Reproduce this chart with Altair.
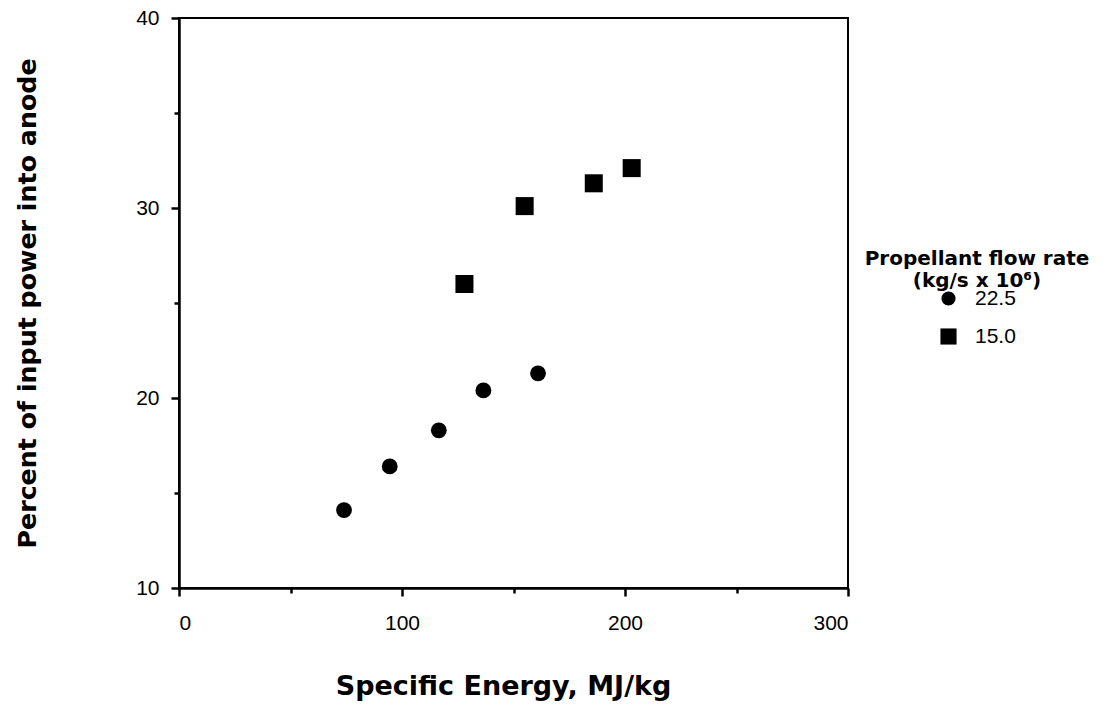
import altair as alt
import pandas as pd

# Data
series_labels = ["22.5", "15.0"]
energy_225 = [74, 94.5, 116.5, 136.5, 161]
percent_225 = [14.1, 16.4, 18.3, 20.4, 21.3]
energy_150 = [128, 155, 186, 203]
percent_150 = [26.0, 30.1, 31.3, 32.1]
x_ticks = [0, 50, 100, 150, 200, 250, 300]
y_ticks = [10, 15, 20, 25, 30, 35, 40]

df = pd.DataFrame({
    "energy": energy_225 + energy_150,
    "percent": percent_225 + percent_150,
    "flow": [series_labels[0]] * len(energy_225) + [series_labels[1]] * len(energy_150),
})

FONT = "Liberation Sans"
TFONT = "DejaVu Sans"
SQUARE = "M-1.14,-1.14H1.14V1.14H-1.14Z"

chart = alt.Chart(df).mark_point(filled=True, opacity=1, color="black", size=250).encode(
    x=alt.X("energy:Q",
            scale=alt.Scale(domain=[0, 300], nice=False, zero=False),
            axis=alt.Axis(values=x_ticks, title="Specific  Energy,  MJ/kg",
                          labelExpr="datum.value % 100 === 0 ? datum.label : ''",
                          tickSize={"condition": {"test": "datum.value % 100 === 0", "value": 8}, "value": 5},
                          labelPadding=16, titlePadding=40, titleX=324, titleFontSize=27)),
    y=alt.Y("percent:Q",
            scale=alt.Scale(domain=[10, 40], nice=False, zero=False),
            axis=alt.Axis(values=y_ticks, title="Percent of input power into anode",
                          labelExpr="datum.value % 10 === 0 ? datum.label : ''",
                          tickSize={"condition": {"test": "datum.value % 10 === 0", "value": 8}, "value": 5},
                          labelPadding=12, titlePadding=95, titleFontSize=25.3)),
    shape=alt.Shape("flow:N",
                    scale=alt.Scale(domain=series_labels, range=["circle", SQUARE]),
                    legend=alt.Legend(title=["Propellant flow rate", "(kg/s x 10⁶)"],
                                      orient="none", legendX=686, legendY=231,
                                      titleAlign="center", titleAnchor="middle",
                                      titleLimit=400,
                                      symbolSize=200, symbolFillColor="black",
                                      symbolStrokeColor="black")),
).properties(
    width=669,
    height=570,
    autosize=alt.AutoSizeParams(type="none"),
    padding={"left": 171, "top": 10, "right": 254, "bottom": 119},
).configure_view(
    stroke="black", strokeWidth=2
).configure_axis(
    domainColor="black", domainWidth=2.5,
    tickColor="black", tickWidth=2.5,
    labelFont=FONT, labelFontSize=21, labelColor="black",
    titleFont=TFONT, titleFontWeight="bold", titleColor="black",
    grid=False, labelOverlap=False,
).configure_legend(
    titleFont=TFONT, titleFontSize=20, titleFontWeight="bold", titleColor="black",
    labelFont=FONT, labelFontSize=21, labelColor="black",
    rowPadding=16, titleLineHeight=22, titlePadding=-3, symbolOffset=0, labelOffset=16,
)

chart.save("out.html", embed_options={"renderer": "svg", "actions": False})
